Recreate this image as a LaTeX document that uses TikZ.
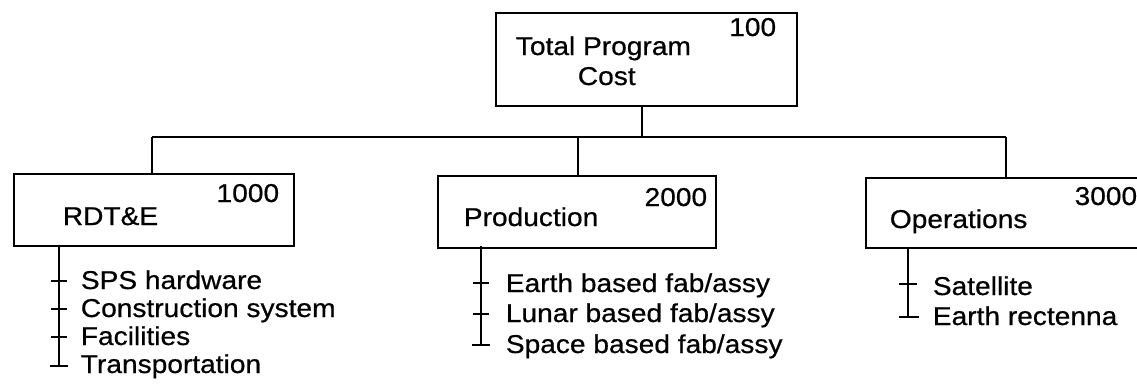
\documentclass[tikz,border=0pt]{standalone}
\usepackage{fontspec}
\setmainfont{Liberation Sans}[FakeStretch=1.09,FakeBold=0.6]
\begin{document}
\begin{tikzpicture}[x=1pt,y=-1pt,
  line width=1.7pt,
  txt/.style={inner sep=0pt,anchor=base west,font=\fontsize{25.8}{30}\selectfont},
  num/.style={inner sep=0pt,anchor=base east,font=\fontsize{25.8}{30}\selectfont},
  box/.style={draw,inner sep=0pt,anchor=north west,rectangle},
  tick/.style={line width=1.5pt}]
\useasboundingbox (0,0) rectangle (1137,389);
% boxes
\node[box,minimum width=301pt,minimum height=93pt] (top) at (495,12) {};
\node[box,minimum width=280pt,minimum height=72pt] (rdte) at (13,173) {};
\node[box,minimum width=278pt,minimum height=72pt] (prod) at (437,175) {};
\node[box,minimum width=282pt,minimum height=70pt] (ops) at (865,177) {};
% box texts
\node[txt] (tl1) at (515,55) {Total Program};
\node[txt] (tl2) at (577,85) {Cost};
\node[num] (tn) at (777,36) {100};
\node[txt] (rl) at (62,225) {RDT\&E};
\node[num] (rn) at (280,202) {1000};
\node[txt] (pl) at (463,226) {Production};
\node[num] (pn) at (708,206) {2000};
\node[txt] (ol) at (889,228) {Operations};
\node[num] (on) at (1138,205) {3000};
% tree connectors
\coordinate (busL) at (152,137);
\coordinate (busR) at (1006,137);
\coordinate (busT) at (642,137);
\coordinate (busP) at (578,137);
\draw (busL) -- (busR);
\draw (busT) -- (busT |- top.south);
\draw (busL) -- (busL |- rdte.north);
\draw (busP) -- (busP |- prod.north);
\draw (busR) -- (busR |- ops.north);
% RDT&E list
\node[txt] (r1) at (80,289) {SPS hardware};
\node[txt] (r2) at (80,317) {Construction system};
\node[txt] (r3) at (80,345) {Facilities};
\node[txt] (r4) at (80,373) {Transportation};
\coordinate (ra) at (59,245);
\coordinate (rb) at (59,366);
\draw (ra) -- (rb);
\foreach \y in {281,309,337} \draw[tick] (51,\y) -- (67,\y);
\draw[tick] (50,366) -- (68,366);
% Production list
\node[txt] (p1) at (505,292) {Earth based fab/assy};
\node[txt] (p2) at (505,322) {Lunar based fab/assy};
\node[txt] (p3) at (505,353) {Space based fab/assy};
\coordinate (pa) at (481,246);
\coordinate (pb) at (481,345);
\draw (pa) -- (pb);
\foreach \y in {283,314} \draw[tick] (473,\y) -- (489,\y);
\draw[tick] (472,345) -- (490,345);
% Operations list
\node[txt] (o1) at (932,295) {Satellite};
\node[txt] (o2) at (932,325) {Earth rectenna};
\coordinate (oa) at (908,247);
\coordinate (ob) at (908,317);
\draw (oa) -- (ob);
\draw[tick] (899,284) -- (917,284);
\draw[tick] (899,317) -- (919,317);
\end{tikzpicture}
\end{document}
